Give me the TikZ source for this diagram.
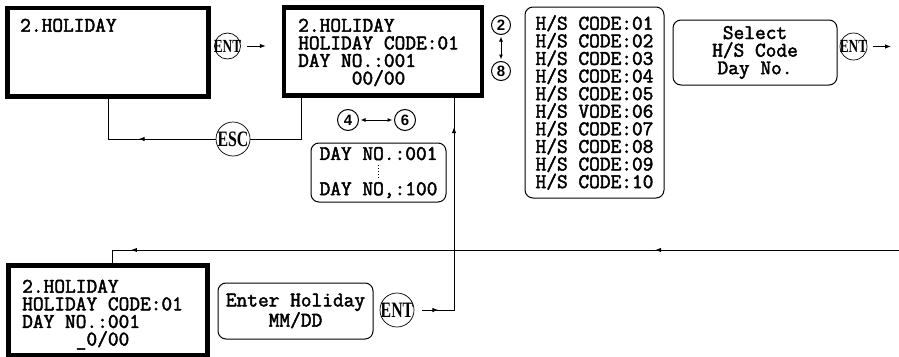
\documentclass[tikz,border=0pt]{standalone}
\usepackage{fontspec}
\usepackage{tikz}
\usetikzlibrary{positioning,arrows.meta,decorations.markings}
\newfontfamily\lcdfont{Latin Modern Mono}[FakeBold=2.2]
\newfontfamily\keyfont{Liberation Serif}[FakeStretch=0.72]
\newfontfamily\numfont{Liberation Sans}

\begin{document}
\begin{tikzpicture}[x=1pt, y=-1pt,
  lcd/.style={draw, line width=4.5pt, inner sep=0pt},
  lcdtext/.style={anchor=north west, inner sep=0pt, align=left, font=\lcdfont\fontsize{20.8}{17.6}\selectfont},
  panel/.style={draw, rounded corners=8pt, line width=1pt, inner sep=0pt, align=center, font=\lcdfont\fontsize{20.8}{17.6}\selectfont},
  key/.style={circle, draw, line width=0.7pt, inner sep=0pt, font=\keyfont\bfseries\fontsize{18.5}{18.5}\selectfont},
  bigkey/.style={key, font=\keyfont\bfseries\fontsize{22}{22}\selectfont},
  num/.style={circle, draw, line width=1pt, inner sep=0pt, minimum size=19pt, font=\numfont\bfseries\fontsize{15}{15}\selectfont},
  line/.style={line width=1pt},
  head/.style={line width=1pt, -{Latex[length=6pt,width=4.5pt]}},
  both/.style={line width=1pt, {Latex[length=5pt,width=4pt]}-{Latex[length=5pt,width=4pt]}, shorten <=1.5pt, shorten >=1.5pt},
  tip/.style={postaction={decorate, decoration={markings, mark=at position #1 with {\arrow{Latex[length=6pt,width=4.5pt]}}}}}]
\useasboundingbox (0,0) rectangle (899,356);

% first screen
\node[lcd, minimum width=201pt, minimum height=88.5pt] (hol1) at (108,52) {};
\node[lcdtext] (hol1txt) at (20,18.5) {2.HOLIDAY};
\node[key, minimum size=26pt] (ent1) at (227.5,46) {\makebox[0pt]{ENT}};

% second screen
\node[lcd, minimum width=198pt, minimum height=88pt] (hol2) at (383,51.5) {};
\node[lcdtext] (hol2txt) at (298,18.5) {2.HOLIDAY\\HOLIDAY CODE:01\\DAY NO.:001\\\phantom{HOLID}00/00};
\node[num] (k2) at (501,25) {2};
\node[num] (k8) at (501,71) {8};
\node[num, minimum size=21pt] (k4) at (348,120) {4};
\node[num, minimum size=21pt] (k6) at (405,120) {6};
\node[bigkey, minimum size=34pt] (esc) at (233,139) {\makebox[0pt]{ESC}};

% choices
\node[panel, minimum width=139pt, minimum height=191pt] (codes) at (594.5,102.5)
  {H/S CODE:01\\H/S CODE:02\\H/S CODE:03\\H/S CODE:04\\H/S CODE:05\\H/S VODE:06\\H/S CODE:07\\H/S CODE:08\\H/S CODE:09\\H/S CODE:10};
\node[panel, minimum width=135pt, minimum height=59pt] (days) at (378.5,172.5) {DAY NO.:001\\[17.6pt]DAY NO,:100};
\draw[dotted, line width=1pt] ([yshift=7.5pt]days.center) -- ([yshift=-7.5pt]days.center);
\node[panel, minimum width=164pt, minimum height=65pt] (sel) at (755,52.5) {Select\\H/S Code\\Day No.};
\node[key, minimum size=27pt] (ent2) at (853.5,46.5) {\makebox[0pt]{ENT}};
\coordinate (exit) at (891,46.5);
\coordinate (wrap) at (899,250);

% third screen
\node[lcd, minimum width=199pt, minimum height=89.5pt] (hol3) at (108,310) {};
\node[lcdtext] (hol3txt) at (22,279.5) {2.HOLIDAY\\HOLIDAY CODE:01\\DAY NO.:001\\\phantom{HOLID}\_0/00};
\node[panel, minimum width=155pt, minimum height=56pt] (enter) at (295.5,311) {Enter Holiday\\MM/DD};
\node[bigkey, minimum size=34pt] (ent3) at (397,310) {\makebox[0pt]{ENT}};

% connectors
\draw[head] ([xshift=6pt]ent1.east) -- ([xshift=-16pt]ent1.east -| hol2.west);
\draw[head] ([xshift=6pt]ent2.east) -- (exit);
\draw[both] (k2) -- (k8);
\draw[both] (k4) -- (k6);
\draw[line] ([xshift=-82pt]hol2.south) |- (esc.east);
\draw[line, tip=0.52] (esc.west) -| (hol1.south);
\draw[line, tip=0.066, tip=0.88] ([xshift=8pt]ent3.east) -| ([xshift=71pt]hol2.south);
\draw[line, tip=0.305, tip=0.96] (wrap) -| ([xshift=4pt]hol3.north);
\end{tikzpicture}
\end{document}
